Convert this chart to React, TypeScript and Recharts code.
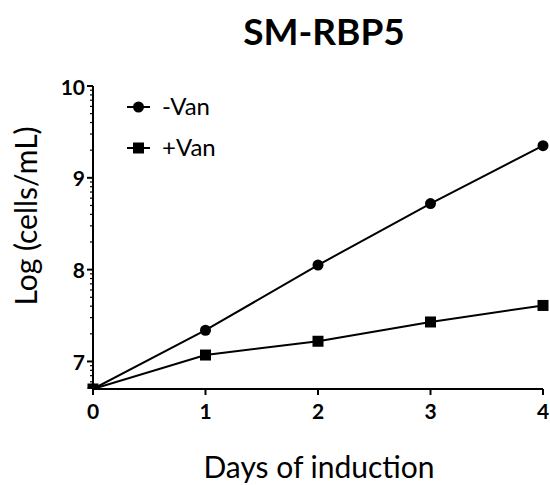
import React from 'react';
import { LineChart, Line, XAxis, YAxis, Legend, Label } from 'recharts';

const days = [0, 1, 2, 3, 4];
const minusVan = [6.7, 7.34, 8.05, 8.72, 9.35];
const plusVan = [6.7, 7.07, 7.22, 7.43, 7.61];
const majorTicks = [7, 8, 9, 10];
// log-style minor ticks like the original (GraphPad)
const minorSteps = [2, 3, 4, 5, 6, 7, 8, 9];

const FONT = 'Lato, "Open Sans", sans-serif';
const AXIS_X = 93;

const data = days.map((d, i) => ({ day: d, minus: minusVan[i], plus: plusVan[i] }));

const minorTicks: number[] = [];
[6, 7, 8, 9].forEach((base) => {
    minorSteps.forEach((k) => {
        const v = base + Math.log10(k);
        if (v >= 6.7 && v <= 10) minorTicks.push(v);
    });
});
const allTicks = [...majorTicks, ...minorTicks].sort((a, b) => a - b);

function YTick(props: any) {
    const { y, payload } = props;
    const major = majorTicks.includes(payload.value);
    return (
        <g>
            <line x1={AXIS_X - (major ? 6 : 3)} x2={AXIS_X} y1={y} y2={y} stroke="#000" strokeWidth={major ? 2 : 1.2} />
            {major && (
                <text x={AXIS_X - 8} y={y} textAnchor="end" dominantBaseline="central"
                    fontFamily={FONT} fontWeight={700} fontSize={21} fill="#000">
                    {payload.value}
                </text>
            )}
        </g>
    );
}

function SquareDot(props: any) {
    const { cx, cy } = props;
    if (cx == null || cy == null) return null;
    return <rect x={cx - 5.5} y={cy - 5.5} width={11} height={11} fill="#000" />;
}

function CircleDot(props: any) {
    const { cx, cy } = props;
    if (cx == null || cy == null) return null;
    return <circle cx={cx} cy={cy} r={5.5} fill="#000" />;
}

function LegendBox() {
    const items = [
        { name: '-Van', shape: 'circle' },
        { name: '+Van', shape: 'square' },
    ];
    return (
        <svg width={140} height={84} style={{ overflow: 'visible' }}>
            {items.map((it, i) => {
                const y = 22 + i * 41;
                return (
                    <g key={it.name}>
                        <line x1={7} x2={30} y1={y} y2={y} stroke="#000" strokeWidth={2} />
                        {it.shape === 'circle'
                            ? <circle cx={18.5} cy={y} r={5.5} fill="#000" />
                            : <rect x={13} y={y - 5.5} width={11} height={11} fill="#000" />}
                        <text x={42} y={y + 8} fontFamily={FONT} fontSize={24} fill="#000">
                            {it.name}
                        </text>
                    </g>
                );
            })}
        </svg>
    );
}

export default function App() {
    return (
        <div style={{ position: 'absolute', left: 0, top: 0, width: 550, height: 485, background: '#fff' }}>
            <svg width={550} height={60} style={{ position: 'absolute', left: 0, top: 0 }}>
                <text x={324} y={45} textAnchor="middle" fontFamily={FONT} fontWeight={700} fontSize={37} fill="#000">
                    SM-RBP5
                </text>
            </svg>
            <LineChart width={550} height={485} data={data} margin={{ top: 86, right: 7, left: 0, bottom: 0 }}>
                <XAxis
                    dataKey="day"
                    type="number"
                    domain={[0, 4]}
                    ticks={days}
                    axisLine={{ stroke: '#000', strokeWidth: 2 }}
                    tickLine={{ stroke: '#000', strokeWidth: 2 }}
                    tickSize={6}
                    tickMargin={9}
                    height={96}
                    tick={{ fill: '#000', fontSize: 21, fontWeight: 700, fontFamily: FONT }}
                >
                    <Label
                        content={() => (
                            <text x={319} y={478} textAnchor="middle"
                                fontFamily={FONT} fontSize={30} fill="#000">
                                Days of induction
                            </text>
                        )}
                    />
                </XAxis>
                <YAxis
                    type="number"
                    domain={[6.7, 10]}
                    ticks={allTicks}
                    interval={0}
                    width={AXIS_X}
                    axisLine={{ stroke: '#000', strokeWidth: 2 }}
                    tickLine={false}
                    tick={<YTick />}
                    allowDataOverflow
                >
                    <Label
                        content={() => (
                            <text x={37} y={216} textAnchor="middle"
                                transform="rotate(-90 37 216)" fontFamily={FONT} fontSize={30} fill="#000">
                                Log (cells/mL)
                            </text>
                        )}
                    />
                </YAxis>
                <Legend
                    layout="horizontal"
                    verticalAlign="middle"
                    align="center"
                    wrapperStyle={{ position: 'absolute', left: 120, top: 85, width: 140, height: 84 }}
                    content={() => <LegendBox />}
                />
                <Line
                    name="-Van"
                    dataKey="minus"
                    type="linear"
                    stroke="#000"
                    strokeWidth={2}
                    dot={<CircleDot />}
                    activeDot={false}
                    isAnimationActive={false}
                />
                <Line
                    name="+Van"
                    dataKey="plus"
                    type="linear"
                    stroke="#000"
                    strokeWidth={2}
                    dot={<SquareDot />}
                    activeDot={false}
                    isAnimationActive={false}
                />
            </LineChart>
        </div>
    );
}
